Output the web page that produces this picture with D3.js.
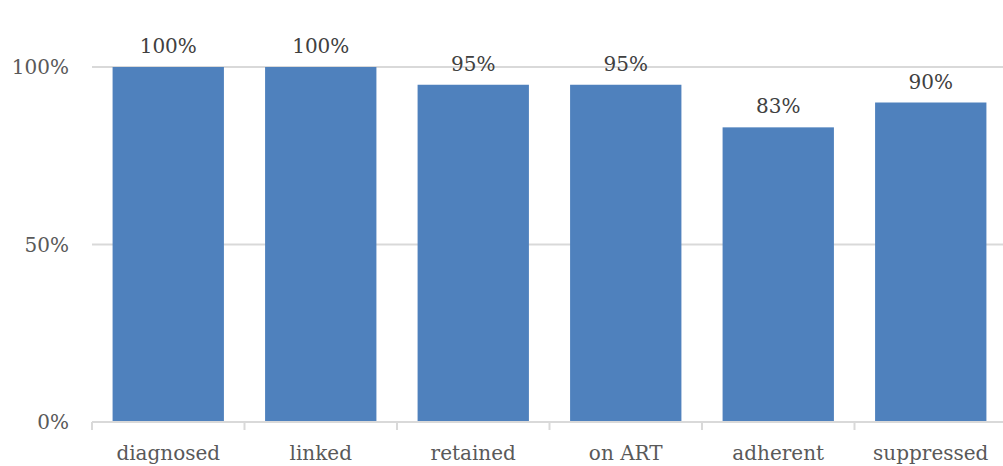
<!DOCTYPE html>
<html>
<head>
<meta charset="utf-8">
<script src="https://cdn.jsdelivr.net/npm/d3@7"></script>
<style>
  body { margin: 0; background: #fff; }
  svg text { font-family: "DejaVu Serif", serif; }
</style>
</head>
<body>
<svg width="1003" height="466"></svg>
<script>
var categories = ['diagnosed', 'linked', 'retained', 'on ART', 'adherent', 'suppressed'];
var values = [1.00, 1.00, 0.95, 0.95, 0.83, 0.90];
var labels = ['100%', '100%', '95%', '95%', '83%', '90%'];
var yTicks = [0, 0.5, 1];

const svg = d3.select('svg');

const xScale = d3.scaleBand()
  .range([92, 1007])
  .domain(categories)
  .paddingInner(0.27)
  .paddingOuter(0.135);

const yScale = d3.scaleLinear()
  .range([422, 67])
  .domain([0, 1]);

// gridlines
svg.append('g')
  .selectAll('line')
  .data(yTicks.filter(d => d > 0))
  .enter()
  .append('line')
  .attr('x1', 92)
  .attr('x2', 1003)
  .attr('y1', d => yScale(d))
  .attr('y2', d => yScale(d))
  .attr('stroke', '#d9d9d9')
  .attr('stroke-width', 2);

// bars
svg.append('g')
  .selectAll('rect')
  .data(categories)
  .enter()
  .append('rect')
  .attr('x', d => xScale(d))
  .attr('y', (d, i) => yScale(values[i]))
  .attr('width', xScale.bandwidth())
  .attr('height', (d, i) => yScale(0) - yScale(values[i]))
  .attr('fill', '#4f81bd');

// x axis line + ticks between categories
const step = xScale.step();
const xAxis = svg.append('g');
xAxis.append('line')
  .attr('x1', 92).attr('x2', 1003)
  .attr('y1', yScale(0)).attr('y2', yScale(0))
  .attr('stroke', '#d9d9d9').attr('stroke-width', 2);
xAxis.selectAll('.tk')
  .data(d3.range(categories.length + 1))
  .enter()
  .append('line')
  .attr('x1', i => 92 + i * step)
  .attr('x2', i => 92 + i * step)
  .attr('y1', yScale(0))
  .attr('y2', yScale(0) + 8)
  .attr('stroke', '#d9d9d9').attr('stroke-width', 2);

xAxis.selectAll('.cat')
  .data(categories)
  .enter()
  .append('text')
  .attr('x', d => xScale(d) + xScale.bandwidth() / 2)
  .attr('y', 460)
  .attr('text-anchor', 'middle')
  .attr('fill', '#595959')
  .attr('font-size', 20)
  .text(d => d);

// y labels
svg.append('g')
  .selectAll('text')
  .data(yTicks)
  .enter()
  .append('text')
  .attr('x', 69)
  .attr('y', d => yScale(d) + 7)
  .attr('text-anchor', 'end')
  .attr('fill', '#595959')
  .attr('font-size', 20)
  .text(d => d3.format('.0%')(d));

// data labels
svg.append('g')
  .selectAll('text')
  .data(categories)
  .enter()
  .append('text')
  .attr('x', d => xScale(d) + xScale.bandwidth() / 2)
  .attr('y', (d, i) => yScale(values[i]) - 14)
  .attr('text-anchor', 'middle')
  .attr('fill', '#404040')
  .attr('font-size', 20)
  .text((d, i) => labels[i]);
</script>
</body>
</html>
